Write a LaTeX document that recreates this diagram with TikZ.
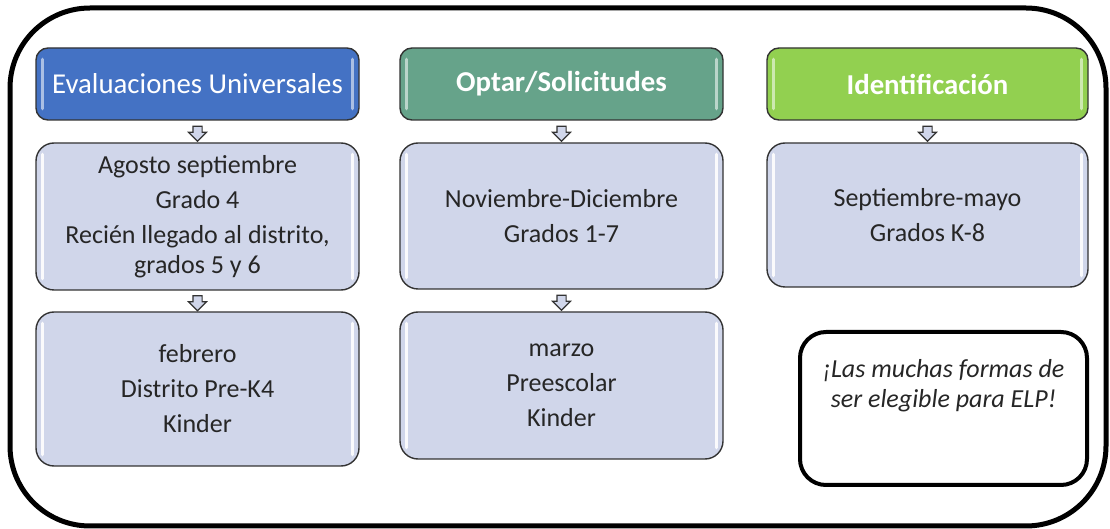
\documentclass[tikz,border=0pt]{standalone}
\usepackage{fontspec}
\setmainfont{Carlito}
\usetikzlibrary{positioning,shapes.arrows,calc}

\definecolor{evalblue}{HTML}{4472C4}
\definecolor{optteal}{HTML}{66A38A}
\definecolor{idgreen}{HTML}{92D050}
\definecolor{boxfill}{HTML}{D0D6EA}
\definecolor{edge}{HTML}{333333}

\tikzset{
  frame/.style={line width=2.5pt, rounded corners=40pt},
  head/.style={draw=edge, line width=0.7pt, rounded corners=6pt, minimum width=161.5pt,
    minimum height=36pt, text=white, font=\fontsize{14.4}{17}\selectfont\bfseries},
  info/.style={draw=edge, line width=0.7pt, fill=boxfill, rounded corners=9pt,
    minimum width=161.5pt, align=center, text=black!85, font=\fontsize{13}{15}\selectfont},
  downarrow/.style={single arrow, shape border rotate=270, draw=edge, fill=boxfill,
    line width=0.6pt, inner sep=2pt, minimum height=7.5pt, single arrow head extend=2.2pt},
  note/.style={draw, line width=2pt, rounded corners=13pt, minimum width=143.5pt, minimum height=76.5pt},
  gloss/.style={white, line width=1.6pt, line cap=round, opacity=0.9},
}
\newcommand{\shine}[2]{%
  \draw[gloss, opacity=#2] ($(#1.north west)+(3.5pt,-6pt)$) -- ($(#1.south west)+(3.5pt,6pt)$);
  \draw[gloss, opacity=#2] ($(#1.north east)+(-3.5pt,-6pt)$) -- ($(#1.south east)+(-3.5pt,6pt)$);}

\begin{document}
\begin{tikzpicture}[x=0.5pt,y=-0.5pt]
  \useasboundingbox (0,0) rectangle (1110,529);
  \draw[frame] (10,8) rectangle (1106,526);

  % columna 1
  \node[head, fill=evalblue, font=\fontsize{14.4}{17}\selectfont] (eval) at (197.5,84) {Evaluaciones Universales};
  \node[info, minimum height=73.5pt] (eval1) at (197.5,216.5)
    {Agosto septiembre\\[2.5pt] Grado 4\\[2.5pt] Recién llegado al distrito,\\ grados 5 y 6};
  \node[info, minimum height=77pt] (eval2) at (197.5,389)
    {febrero\\[2.5pt] Distrito Pre-K4\\[2.5pt] Kinder};

  % columna 2
  \node[head, fill=optteal] (opt) at (561.5,84) {Optar/Solicitudes};
  \node[info, minimum height=73pt] (opt1) at (561.5,216) {Noviembre-Diciembre\\[2.5pt] Grados 1-7};
  \node[info, minimum height=73.5pt] (opt2) at (561.5,385.5)
    {marzo\\[2.5pt] Preescolar\\[2.5pt] Kinder};

  % columna 3
  \node[head, fill=idgreen, minimum width=160.5pt] (ident) at (927.5,84) {Identificación};
  \node[info, minimum width=160.5pt, minimum height=72pt] (ident1) at (927.5,215)
    {Septiembre-mayo\\[2.5pt] Grados K-8};

  \foreach \n in {eval,opt,ident} {\shine{\n}{0.55}}
  \foreach \n in {eval1,eval2,opt1,opt2,ident1} {\shine{\n}{0.9}}

  % flechas
  \node[downarrow] (a1) at ($(eval.south)!0.5!(eval1.north)$) {};
  \node[downarrow] (a2) at ($(eval1.south)!0.5!(eval2.north)$) {};
  \node[downarrow] (a3) at ($(opt.south)!0.5!(opt1.north)$) {};
  \node[downarrow] (a4) at ($(opt1.south)!0.5!(opt2.north)$) {};
  \node[downarrow] (a5) at ($(ident.south)!0.5!(ident1.north)$) {};

  % nota
  \node[note] (elp) at (943.5,408.5) {};
  \node[align=center, text=black!85, font=\fontsize{13}{15}\selectfont\itshape] (elptext)
    at ($(elp.center)+(0,11.5pt)$) {¡Las muchas formas de\\ser elegible para ELP!};
\end{tikzpicture}
\end{document}
